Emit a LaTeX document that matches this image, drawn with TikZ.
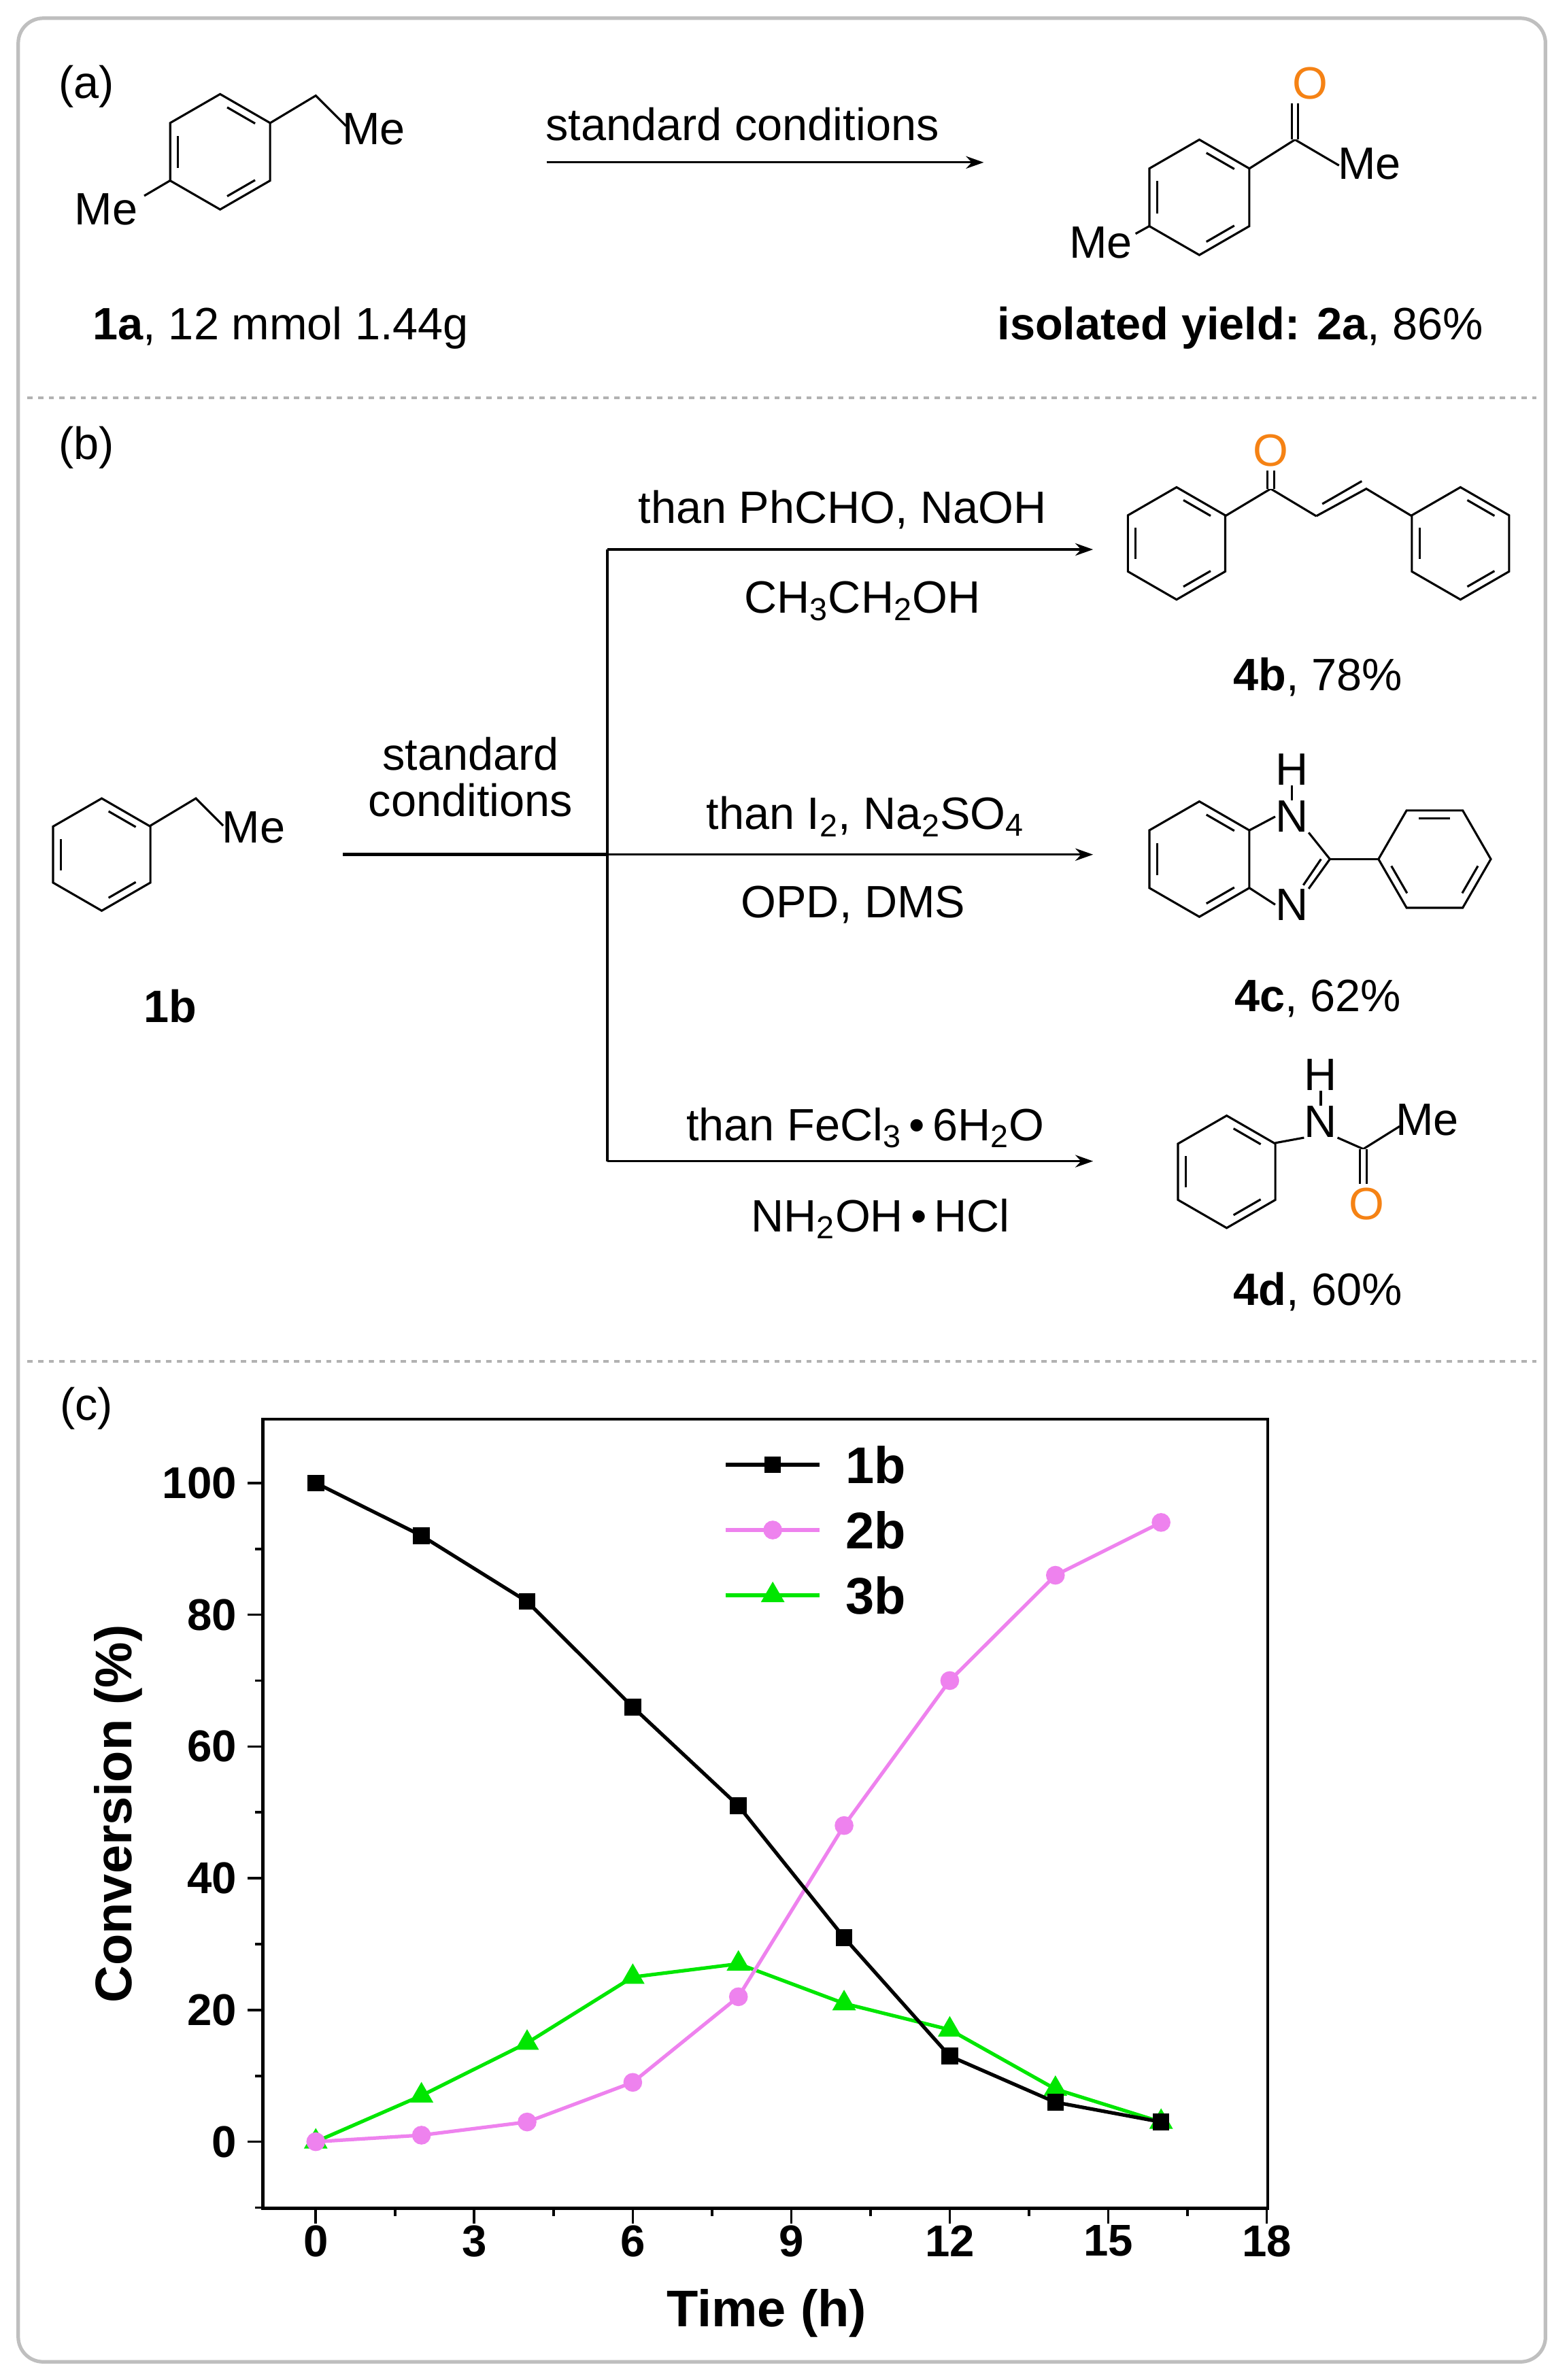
\documentclass[tikz,border=0pt]{standalone}
\usepackage{fontspec}
\setmainfont{Liberation Sans}
\usetikzlibrary{arrows.meta,plotmarks}
\definecolor{oran}{RGB}{245,130,20}
\definecolor{pinkc}{RGB}{238,130,238}
\definecolor{greenc}{RGB}{0,230,0}
\newcommand\sbs[1]{\textsubscript{#1}}
\tikzset{bond/.style={line width=1.2pt},
 txt/.style={font=\fontsize{25.5}{29}\selectfont,inner sep=1pt},
 atom/.style={font=\fontsize{25.5}{29}\selectfont,inner sep=0pt},
 rxn/.style={line width=1.2pt,-{Stealth[length=10pt,width=7pt]}},
 tick/.style={font=\bfseries\fontsize{25}{29}\selectfont},
 dbl/.style={line width=1.2pt,double,double distance=2.5pt}}
\newcommand\benz[4]{%
\begin{scope}[shift={(#1,#2)}]
\draw[bond] ({#4}:#3)--({#4+60}:#3)--({#4+120}:#3)--({#4+180}:#3)--({#4+240}:#3)--({#4+300}:#3)--cycle;
\foreach \k in {0,120,240}{\draw[bond] ({#4+\k+9}:{0.78*#3})--({#4+\k+51}:{0.78*#3});}
\end{scope}}
\begin{document}
\begin{tikzpicture}[x=0.3mm,y=-0.3mm]
\useasboundingbox (0,0) rectangle (1032,1568);
\draw[gray!50,line width=2pt,rounded corners=14pt] (12,12) rectangle (1018,1556);
\draw[gray!60,line width=1.5pt,dashed] (18,262)--(1012,262);
\draw[gray!60,line width=1.5pt,dashed] (18,897)--(1012,897);
% panel a
\node[txt] (la) at (57,57) {(a)};
\benz{145}{100}{38}{30}
\draw[bond] (178,81)--(208,63)--(228,83);
\node[txt,anchor=west] (mea) at (224,85) {Me};
\draw[bond] (112,119)--(95,129);
\node[txt] (mea2) at (70,138) {Me};
\coordinate (a1) at (360,107); \coordinate (a2) at (648,107);
\draw[rxn] (a1)--(a2);
\node[txt] (sc) at (489,82) {standard conditions};
\benz{790}{130}{38}{30}
\draw[bond] (823,111)--(853,92)--(882,109);
\draw[dbl] (853,92)--(853,68);
\node[txt,text=oran] (oa) at (863,55) {O};
\node[txt,anchor=west] (meb) at (880,108) {Me};
\draw[bond] (757,149)--(748,154);
\node[txt] (mec) at (725,160) {Me};
\node[txt] (l1a) at (185,216) {\textbf{1a}, 12 mmol 1.44g};
\node[txt] (l2a) at (817,216) {\textbf{isolated yield: 2a}, 86\%};
% panel b
\node[txt] (lb) at (57,295) {(b)};
\benz{67}{563}{37}{30}
\draw[bond] (99,544)--(129,526)--(147,544);
\node[txt,anchor=west] (me1b) at (145,545) {Me};
\node[txt] (l1b) at (112,663) {\textbf{1b}};
\coordinate (s0) at (226,563); \coordinate (s1) at (400,563);
\coordinate (t) at (400,362); \coordinate (bt) at (400,765);
\draw[line width=1.8pt] (s0)--(s1);
\draw[line width=1.4pt] (t)--(bt);
\node[txt,align=center] (scb) at (310,512) {standard\\[-3pt]conditions};
\coordinate (e1) at (720,362); \coordinate (e2) at (720,563); \coordinate (e3) at (720,765);
\draw[rxn] (t)--(e1); \draw[rxn] (s1)--(e2); \draw[rxn] (bt)--(e3);
\node[txt] (c1) at (555,336) {than PhCHO, NaOH};
\node[txt] (c2) at (568,396) {CH\sbs{3}CH\sbs{2}OH};
\node[txt] (c3) at (570,538) {than I\sbs{2}, Na\sbs{2}SO\sbs{4}};
\node[txt] (c4) at (562,596) {OPD, DMS};
\node[txt] (c5) at (570,743) {than FeCl\sbs{3}\,•\,6H\sbs{2}O};
\node[txt] (c6) at (580,803) {NH\sbs{2}OH\,•\,HCl};
% 4b
\benz{775}{358}{37}{30}
\benz{962}{358}{37}{30}
\draw[bond] (807,340)--(837,322)--(867,340);
\draw[dbl] (837,322)--(837,310);
\node[txt,text=oran] (ob) at (837,297) {O};
\draw[bond] (867,340)--(900,322)--(930,340);
\draw[bond] (871,332)--(897,317);
\node[txt] (l4b) at (868,446) {\textbf{4b}, 78\%};
% 4c
\benz{790}{566}{38}{30}
\node[atom] (n1) at (851,538) {N};
\node[atom] (n3) at (851,596) {N};
\node[atom] (h1) at (851,507) {H};
\coordinate (c2c) at (876,566);
\draw[bond] (823,547)--(n1.west); \draw[bond] (823,585)--(n3.west);
\draw[bond] (n1.south east)--(c2c); \draw[bond] (c2c)--(n3.north east);
\draw[bond] ([xshift=-5pt]c2c)--([xshift=-3pt,yshift=2pt]n3.north east);
\draw[bond] (n1)--(h1);
\benz{945}{566}{37}{0}
\draw[bond] (c2c)--(908,566);
\node[txt] (l4c) at (868,658) {\textbf{4c}, 62\%};
% 4d
\benz{808}{772}{37}{30}
\node[atom] (nd) at (870,739) {N};
\node[atom] (hd) at (870,708) {H};
\draw[bond] (nd)--(hd);
\coordinate (cd) at (898,757);
\draw[bond] (840,753)--(nd.south west); \draw[bond] (nd.south east)--(cd)--(922,742);
\draw[dbl] (cd)--(898,780);
\node[txt,text=oran] (od) at (900,793) {O};
\node[txt,anchor=west] (med) at (918,738) {Me};
\node[txt] (l4d) at (868,851) {\textbf{4d}, 60\%};
% panel c
\node[txt] (lc) at (57,928) {(c)};
\draw[line width=1.8pt] (173,935) rectangle (835,1455);
\foreach \v in {0,20,...,100}{
 \draw[line width=1.4pt] (173,{1411-4.34*\v})--(163,{1411-4.34*\v});
 \node[tick,anchor=east] at (160,{1411-4.34*\v}) {\v};}
\foreach \v in {10,30,...,90}{\draw[line width=1.4pt] (173,{1411-4.34*\v})--(168,{1411-4.34*\v});}
\draw[line width=1.4pt] (173,{1411+4.34*10})--(168,{1411+4.34*10});
\foreach \t in {0,3,...,18}{
 \draw[line width=1.4pt] ({208+34.8*\t},1455)--({208+34.8*\t},1465);
 \node[tick,anchor=north] at ({208+34.8*\t},1462) {\t};}
\foreach \t in {1.5,4.5,...,16.5}{\draw[line width=1.4pt] ({208+34.8*\t},1455)--({208+34.8*\t},1460);}
\node[font=\bfseries\fontsize{29}{33}\selectfont] (xl) at (505,1524) {Time (h)};
\node[font=\bfseries\fontsize{29}{33}\selectfont,rotate=90] (yl) at (78,1195) {Conversion (\%)};
\draw[greenc,line width=2pt,mark=triangle*,mark size=2mm,mark options={greenc}] plot coordinates {(208,1411)(277.6,1380.6)(347.2,1345.9)(416.8,1302.5)(486.4,1293.8)(556,1319.9)(625.6,1337.2)(695.2,1376.3)(764.8,1398)};
\draw[pinkc,line width=2pt,mark=*,mark size=1.5mm,mark options={pinkc}] plot coordinates {(208,1411)(277.6,1406.7)(347.2,1398)(416.8,1371.9)(486.4,1315.5)(556,1202.7)(625.6,1107.2)(695.2,1037.8)(764.8,1003)};
\draw[black,line width=2pt,mark=square*,mark size=1.3mm] plot coordinates {(208,977)(277.6,1011.7)(347.2,1055.1)(416.8,1124.6)(486.4,1189.7)(556,1276.5)(625.6,1354.6)(695.2,1385)(764.8,1398)};
\draw[black,line width=2pt] (478,965)--(540,965);
\draw[black,line width=2pt,mark=square*,mark size=1.3mm] plot coordinates {(509,965)};
\draw[pinkc,line width=2pt] (478,1008)--(540,1008);
\draw[pinkc,line width=2pt,mark=*,mark size=1.5mm,mark options={pinkc}] plot coordinates {(509,1008)};
\draw[greenc,line width=2pt] (478,1051)--(540,1051);
\draw[greenc,line width=2pt,mark=triangle*,mark size=2mm,mark options={greenc}] plot coordinates {(509,1051)};
\node[font=\bfseries\fontsize{29}{33}\selectfont] (g1) at (577,965) {1b};
\node[font=\bfseries\fontsize{29}{33}\selectfont] (g2) at (577,1008) {2b};
\node[font=\bfseries\fontsize{29}{33}\selectfont] (g3) at (577,1051) {3b};
\end{tikzpicture}
\end{document}
